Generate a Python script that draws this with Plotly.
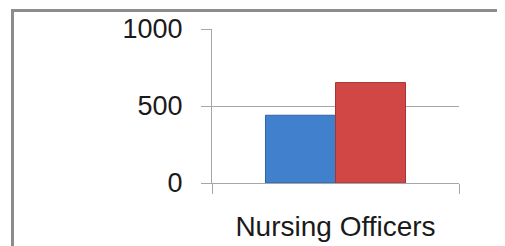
import plotly.graph_objects as go

categories = ["Nursing Officers"]
series1_values = [440]
series2_values = [652]
y_tick_values = [0, 500, 1000]
y_tick_labels = ["0", "500", "1000"]

W, H = 505, 246
OFF = 8  # page body margin offset
L, R, T, B = 212 - OFF, 459 - OFF, 29 - OFF, 183 - OFF  # plot area in figure pixels

def px_x(x):
    return (x - OFF - L) / (R - L)

def px_y(y):
    return (B - (y - OFF)) / (B - T)

grid = "#a6a6a6"
font_family = "Liberation Sans, Arial, sans-serif"

fig = go.Figure()
fig.add_trace(go.Bar(x=categories, y=series1_values, name="Series 1",
                     marker=dict(color="#4080cd", line=dict(color="#2f63a6", width=1))))
fig.add_trace(go.Bar(x=categories, y=series2_values, name="Series 2",
                     marker=dict(color="#d04745", line=dict(color="#a33533", width=1))))

fig.update_layout(
    width=W, height=H,
    margin=dict(l=L, r=W - R, t=T, b=H - B, pad=0, autoexpand=False),
    paper_bgcolor="white", plot_bgcolor="white",
    showlegend=False,
    barmode="group", bargap=0.433, bargroupgap=0,
    font=dict(family=font_family, color="#1a1a1a"),
    shapes=[
        dict(type="rect", xref="paper", yref="paper",
             x0=px_x(12.5), y0=px_y(10.5), x1=px_x(560), y1=px_y(300),
             line=dict(color="#8c8c8c", width=3), fillcolor="rgba(0,0,0,0)", layer="below"),
    ],
)
fig.update_yaxes(
    range=[0, 1000], tickvals=y_tick_values, ticktext=y_tick_labels,
    showgrid=True, gridcolor=grid, gridwidth=1,
    showline=True, linecolor=grid, linewidth=1,
    ticks="outside", ticklen=10, tickcolor=grid, tickwidth=1,
    tickfont=dict(size=27, family=font_family, color="#1a1a1a"),
    ticklabelstandoff=13, zeroline=False, automargin=False,
)
fig.update_xaxes(
    range=[-0.5, 0.5], showgrid=False,
    showline=True, linecolor=grid, linewidth=1,
    ticks="outside", ticklen=10, tickcolor=grid, tickwidth=1, tickson="boundaries",
    tickfont=dict(size=28, family=font_family, color="#1a1a1a"),
    ticklabelstandoff=18, automargin=False,
)
fig.write_html("out.html")
